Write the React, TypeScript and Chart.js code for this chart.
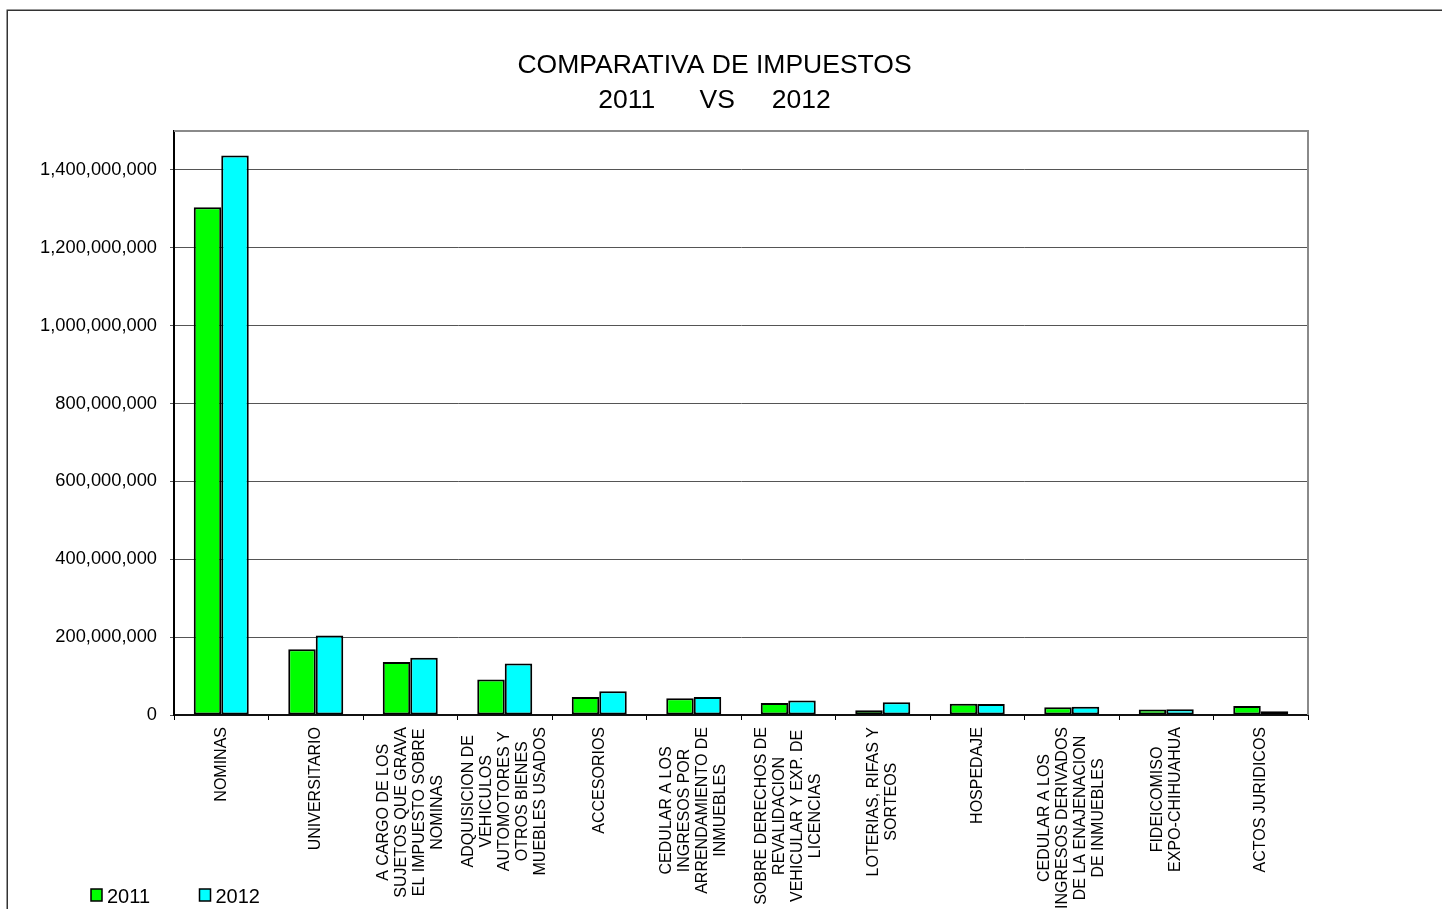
import React, { useEffect, useRef } from 'react';
import { Chart, registerables } from 'chart.js';

Chart.register(...registerables);

const FONT = "'Liberation Sans', Arial, Helvetica, sans-serif";

const titleLines = ['COMPARATIVA DE IMPUESTOS', '2011      VS     2012'];

const categories: string[][] = [
  ['NOMINAS'],
  ['UNIVERSITARIO'],
  ['A CARGO DE LOS', 'SUJETOS QUE GRAVA', 'EL IMPUESTO SOBRE', 'NOMINAS'],
  ['ADQUISICION DE', 'VEHICULOS', 'AUTOMOTORES Y', 'OTROS BIENES', 'MUEBLES USADOS'],
  ['ACCESORIOS'],
  ['CEDULAR A LOS', 'INGRESOS POR', 'ARRENDAMIENTO DE', 'INMUEBLES'],
  ['SOBRE DERECHOS DE', 'REVALIDACION', 'VEHICULAR Y EXP. DE', 'LICENCIAS'],
  ['LOTERIAS, RIFAS Y', 'SORTEOS'],
  ['HOSPEDAJE'],
  ['CEDULAR A LOS', 'INGRESOS DERIVADOS', 'DE LA ENAJENACION', 'DE INMUEBLES'],
  ['FIDEICOMISO', 'EXPO-CHIHUAHUA'],
  ['ACTOS JURIDICOS'],
];

const seriesNames = ['2011', '2012'];
const seriesColors = ['#00FF00', '#00FFFF'];

const values2011 = [
  1304000000, 169000000, 136000000, 91000000, 46000000, 43000000,
  31000000, 12000000, 29000000, 20000000, 14000000, 23000000,
];
const values2012 = [
  1437000000, 204000000, 147000000, 132000000, 61000000, 46000000,
  37000000, 33000000, 28000000, 21000000, 15000000, 9500000,
];

const yTickValues = [0, 200000000, 400000000, 600000000, 800000000, 1000000000, 1200000000, 1400000000];
const yMax = 1500000000;

const decorPlugin = {
  id: 'decor',
  beforeDraw(chart: any) {
    const ctx = chart.ctx;
    ctx.save();
    ctx.fillStyle = '#ffffff';
    ctx.fillRect(0, 0, chart.width, chart.height);
    ctx.strokeStyle = '#333333';
    ctx.lineWidth = 1.5;
    ctx.strokeRect(7.25, 10.25, 1600, 1200);
    ctx.restore();
  },
  afterDraw(chart: any) {
    const ctx = chart.ctx;
    const area = chart.chartArea;
    ctx.save();
    // plot area border (top & right)
    ctx.strokeStyle = '#8a8a8a';
    ctx.lineWidth = 2;
    ctx.beginPath();
    ctx.moveTo(area.left, area.top);
    ctx.lineTo(area.right, area.top);
    ctx.lineTo(area.right, area.bottom);
    ctx.stroke();

    // x category labels (rotated, multi-line, centered)
    const xs = chart.scales.x;
    ctx.font = `16px ${FONT}`;
    ctx.fillStyle = '#000000';
    const lh = 18;
    categories.forEach((lines, i) => {
      const cx = xs.getPixelForValue(i);
      const maxW = Math.max(...lines.map((l) => ctx.measureText(l).width));
      const midY = xs.top + 12 + maxW / 2;
      lines.forEach((line, j) => {
        const lx = cx + (j - (lines.length - 1) / 2) * lh;
        ctx.save();
        ctx.translate(lx, midY);
        ctx.rotate(-Math.PI / 2);
        ctx.textAlign = 'center';
        ctx.textBaseline = 'middle';
        ctx.fillText(line, 0, 0);
        ctx.restore();
      });
    });

    // title
    ctx.font = `26.5px ${FONT}`;
    ctx.textAlign = 'center';
    ctx.textBaseline = 'alphabetic';
    ctx.fillStyle = '#000000';
    ctx.fillText(titleLines[0], 714.5, 73);
    ctx.fillText(titleLines[1], 714.5, 108);

    // legend
    ctx.font = `20px ${FONT}`;
    chart.data.datasets.forEach((ds: any, k: number) => {
      const bx = 91 + k * 108.5;
      const by = 889;
      ctx.fillStyle = ds.backgroundColor;
      ctx.fillRect(bx, by, 11, 12);
      ctx.lineWidth = 1.5;
      ctx.strokeStyle = '#000000';
      ctx.strokeRect(bx, by, 11, 12);
      ctx.fillStyle = '#000000';
      ctx.textAlign = 'left';
      ctx.textBaseline = 'alphabetic';
      ctx.fillText(ds.label, bx + 16, 902.5);
    });
    ctx.restore();
  },
};

export default function App() {
  const ref = useRef<HTMLCanvasElement>(null);

  useEffect(() => {
    if (!ref.current) return;
    const chart = new Chart(ref.current, {
      type: 'bar',
      data: {
        labels: categories.map((c) => c.join(' ')),
        datasets: [
          {
            label: seriesNames[0],
            data: values2011,
            backgroundColor: seriesColors[0],
            borderColor: '#000000',
            borderWidth: 2,
            borderSkipped: false,
            categoryPercentage: 0.582,
            barPercentage: 1,
          },
          {
            label: seriesNames[1],
            data: values2012,
            backgroundColor: seriesColors[1],
            borderColor: '#000000',
            borderWidth: 2,
            borderSkipped: false,
            categoryPercentage: 0.582,
            barPercentage: 1,
          },
        ],
      },
      options: {
        responsive: false,
        animation: false,
        events: [],
        layout: { padding: { top: 131, left: 0, right: 134, bottom: 0 } },
        plugins: {
          legend: { display: false },
          title: { display: false },
          tooltip: { enabled: false },
        },
        scales: {
          x: {
            type: 'category',
            offset: true,
            ticks: { display: false },
            grid: {
              offset: true,
              drawOnChartArea: false,
              drawTicks: true,
              tickLength: 5,
              color: '#000000',
              lineWidth: 1,
            },
            border: { display: true, color: '#111111', width: 2 },
            afterFit: (scale: any) => {
              scale.height = 194;
            },
          },
          y: {
            type: 'linear',
            min: 0,
            max: yMax,
            afterBuildTicks: (scale: any) => {
              scale.ticks = yTickValues.map((v) => ({ value: v }));
            },
            afterFit: (scale: any) => {
              scale.width = 174;
            },
            ticks: {
              color: '#000000',
              font: { family: FONT, size: 18.3 },
              padding: 13,
              callback: (v: any) => Number(v).toLocaleString('en-US'),
            },
            grid: {
              color: '#555555',
              lineWidth: 1,
              tickLength: 4,
              drawTicks: true,
            },
            border: { display: true, color: '#000000', width: 2 },
          },
        },
      },
      plugins: [decorPlugin],
    });
    return () => chart.destroy();
  }, []);

  return (
    <canvas
      ref={ref}
      width={1442}
      height={909}
      style={{ position: 'fixed', left: 0, top: 0, width: 1442, height: 909, display: 'block' }}
    />
  );
}
